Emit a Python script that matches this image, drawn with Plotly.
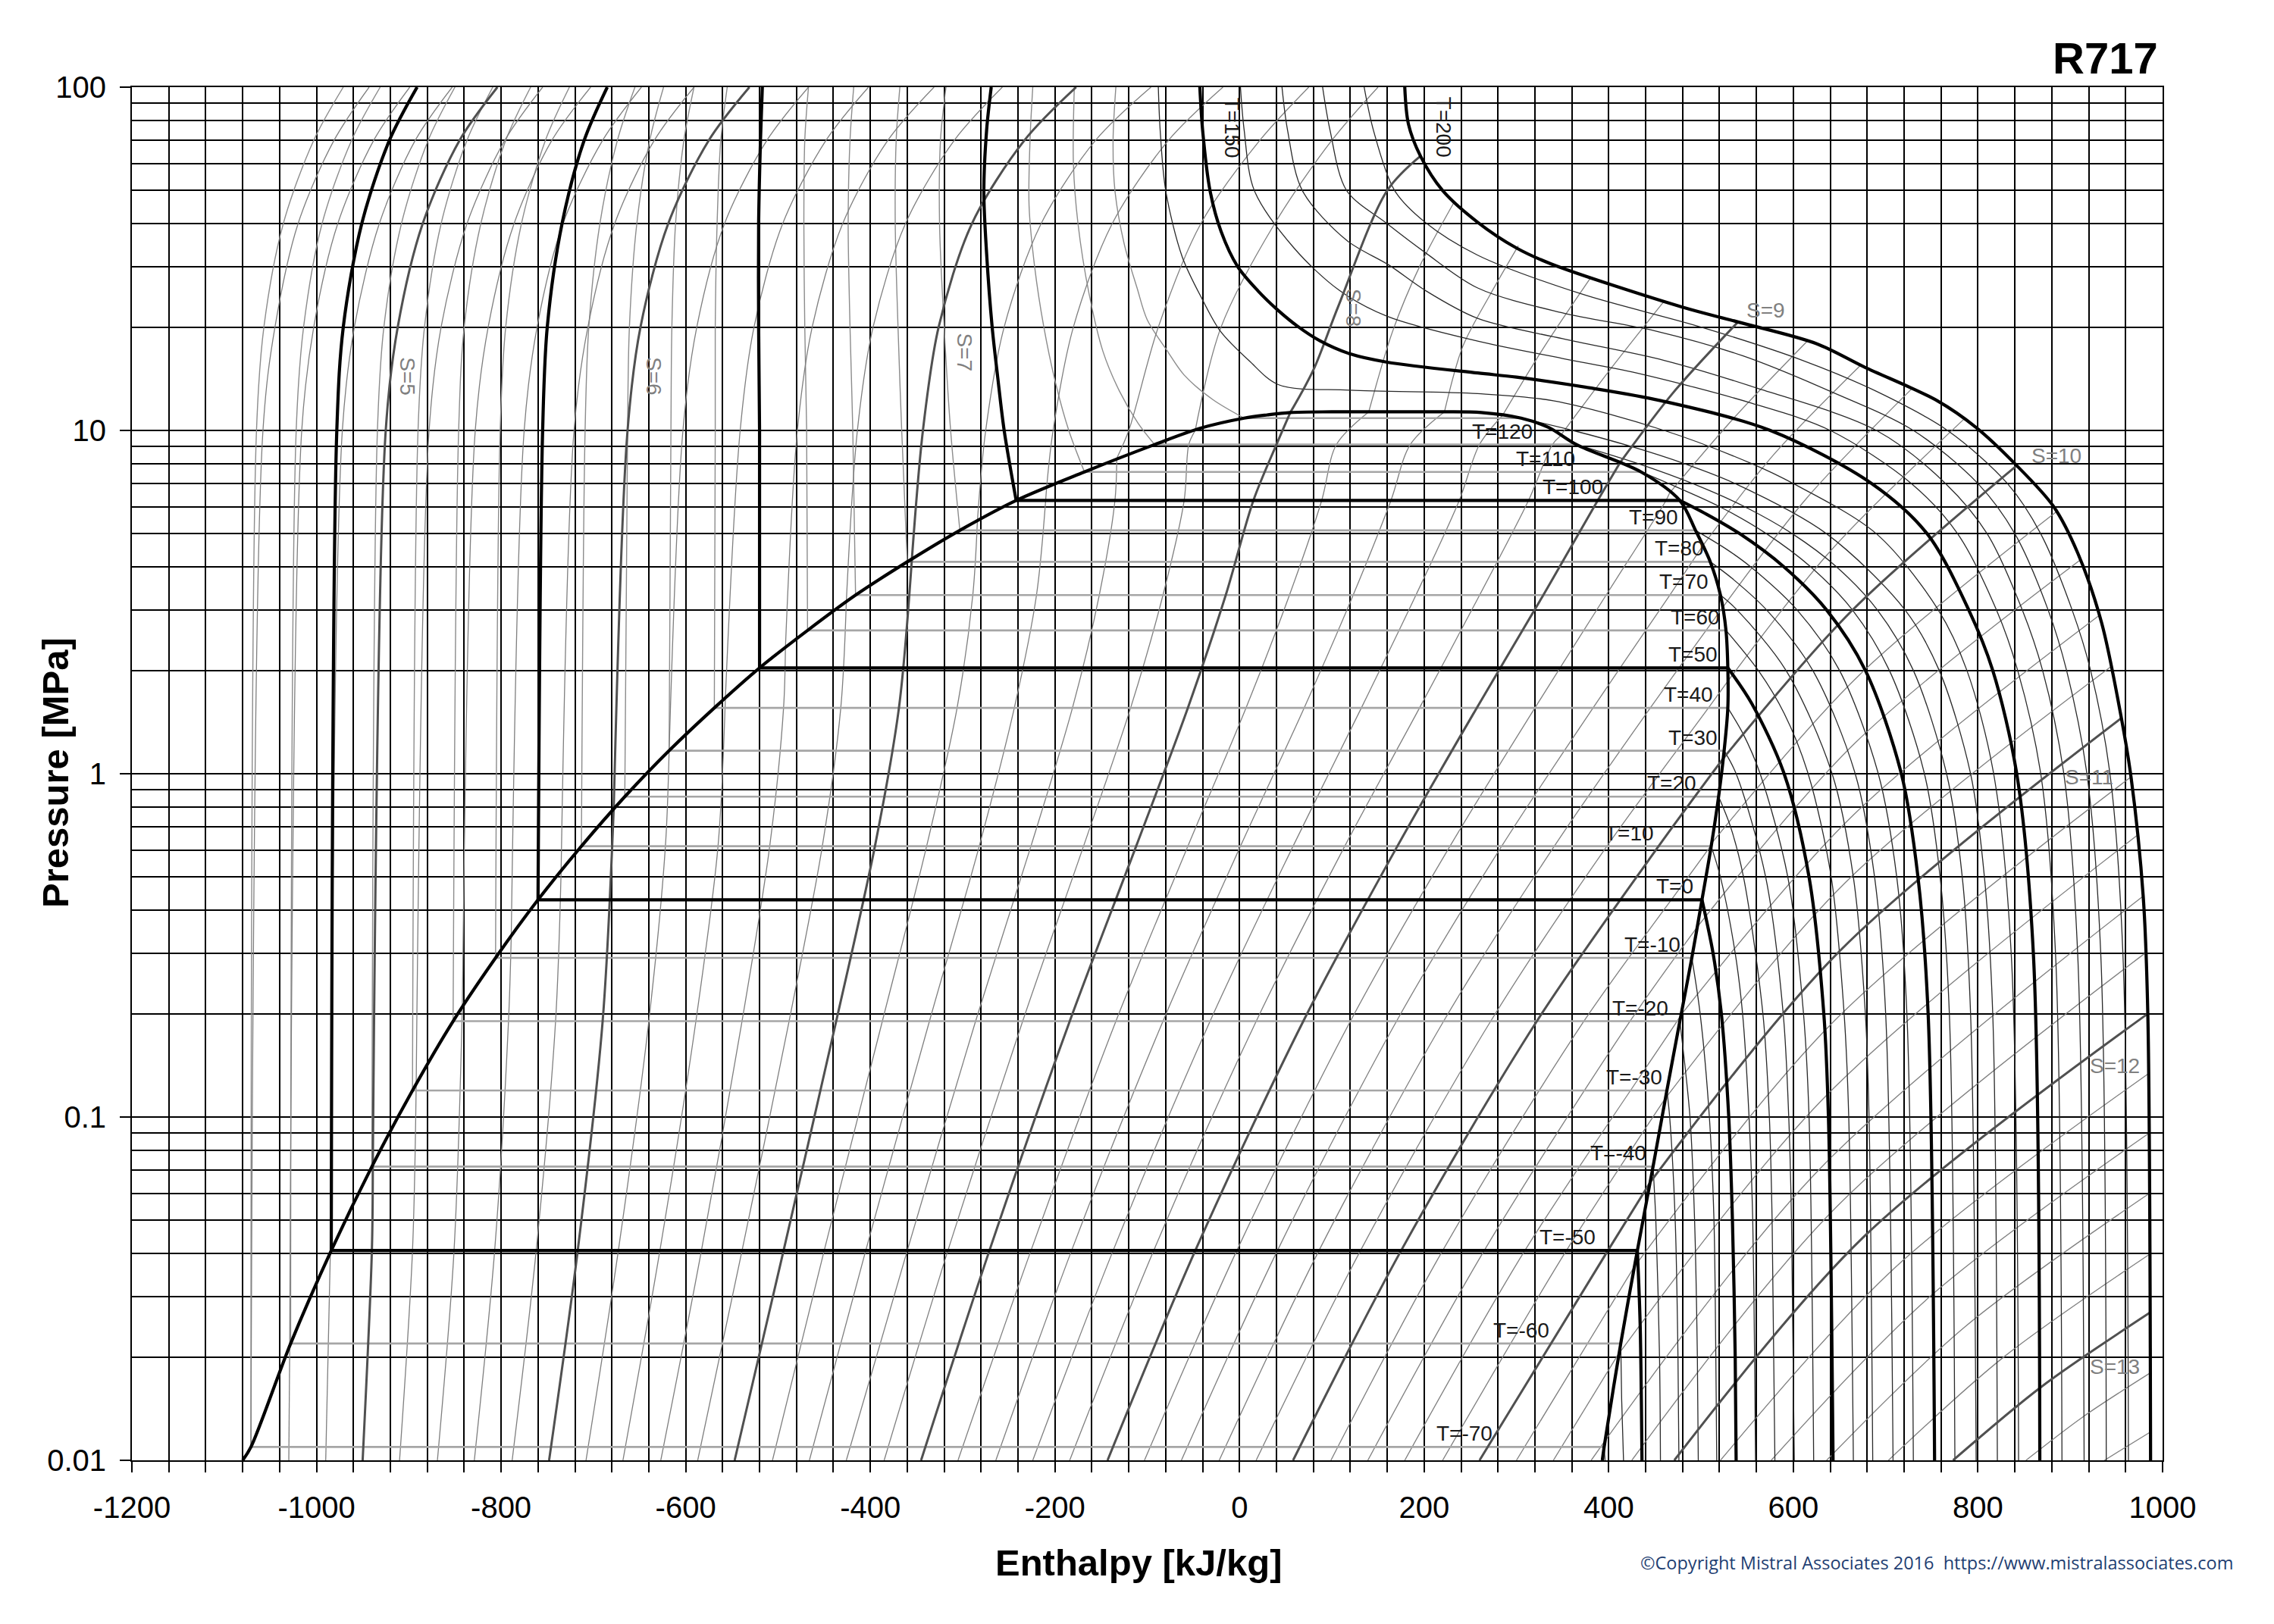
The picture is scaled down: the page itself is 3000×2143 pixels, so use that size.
"""
Diagrama presion-entalpia del R717 (amoniaco), leido del grafico original.
Entalpia en kJ/kg, presion en MPa (escala logaritmica), entropia en kJ/kgK.
"""

import math
import plotly.graph_objects as go

FONT = "Liberation Sans, Arial, sans-serif"

# ---------------------------------------------------------------
# Estados de saturacion
# ---------------------------------------------------------------
SAT_T = [-70, -60, -50, -40, -30, -20, -10, 0, 10, 20,
         30, 40, 50, 60, 70, 80, 90, 100, 110, 120, 130]
SAT_P = [0.01094, 0.02189, 0.04084, 0.07171, 0.1195, 0.1902, 0.2908, 0.4294, 0.6152, 0.8575,
         1.1672, 1.5554, 2.034, 2.6156, 3.3135, 4.142, 5.1164, 6.2533, 7.5721, 9.0963, 10.861]
SAT_HL = [-1071, -1028, -984, -940, -896, -852, -806, -760, -713, -666,
          -618, -569, -520, -468, -416, -360, -303, -242, -168, -92, 5]
SAT_HV = [395, 413, 431, 448, 463, 477, 490, 501, 511, 519,
          525, 529, 529, 527, 521, 510, 494, 477, 435, 365, 305]

# campana: rama liquida -> punto critico -> rama vapor
DOME_H = [-1080, -1071, -1028, -984, -940, -896, -852, -806, -760, -713, -666,
          -618, -569, -520, -468, -416, -360, -303, -242, -168, -92, -43, 5,
          30, 55, 100, 157, 215, 262, 305, 335, 365, 435, 477, 494, 510, 521,
          527, 529, 529, 525, 519, 511, 501, 490, 477, 463, 448, 431, 413, 395, 393]
DOME_P = [0.01, 0.01094, 0.02189, 0.04084, 0.07171, 0.1195, 0.1902, 0.2908, 0.4294, 0.6152, 0.8575,
          1.1672, 1.5554, 2.034, 2.6156, 3.3135, 4.142, 5.1164, 6.2533, 7.5721, 9.0963, 10.14, 10.861,
          11.1, 11.28, 11.33, 11.333, 11.33, 11.28, 10.861, 10.2, 9.0963, 7.5721, 6.2533, 5.1164, 4.142,
          3.3135, 2.6156, 2.034, 1.5554, 1.1672, 0.8575, 0.6152, 0.4294, 0.2908, 0.1902, 0.1195, 0.07171,
          0.04084, 0.02189, 0.01094, 0.01]

# ---------------------------------------------------------------
# Isotermas: (h, P) por encima del liquido saturado
# ---------------------------------------------------------------
ISO_LIQ = {
    -70: [(-1065, 10), (-1057, 20), (-1036, 40), (-1003, 70), (-971, 100)],
    -60: [(-1022, 10), (-1014, 20), (-994, 40), (-962, 70), (-931, 100)],
    -50: [(-978, 10), (-971, 20), (-951, 40), (-921, 70), (-891, 100)],
    -40: [(-934, 10), (-927, 20), (-908, 40), (-879, 70), (-850, 100)],
    -30: [(-890, 10), (-883, 20), (-865, 40), (-837, 70), (-809, 100)],
    -20: [(-846, 10), (-840, 20), (-822, 40), (-795, 70), (-768, 100)],
    -10: [(-801, 10), (-795, 20), (-778, 40), (-752, 70), (-726, 100)],
    0: [(-755, 10), (-750, 20), (-734, 40), (-710, 70), (-685, 100)],
    10: [(-709, 10), (-705, 20), (-693, 40), (-674, 70), (-655, 100)],
    20: [(-663, 10), (-661, 20), (-653, 40), (-639, 70), (-624, 100)],
    30: [(-616, 10), (-615, 20), (-611, 40), (-602, 70), (-591, 100)],
    40: [(-568, 10), (-568, 20), (-566, 40), (-562, 70), (-555, 100)],
    50: [(-520, 10), (-521, 20), (-521, 40), (-519, 70), (-517, 100)],
    60: [(-469, 10), (-471, 20), (-472, 40), (-471, 70), (-467, 100)],
    70: [(-419, 10), (-422, 20), (-424, 40), (-422, 70), (-418, 100)],
    80: [(-366, 10), (-370, 20), (-373, 40), (-372, 70), (-368, 100)],
    90: [(-313, 10), (-320, 20), (-325, 40), (-324, 70), (-318, 100)],
    100: [(-255, 10), (-262, 14.3), (-268, 20), (-274, 32.7), (-277, 49.5), (-274, 75), (-269, 100)],
    110: [(-185, 10), (-200, 14), (-212, 20), (-222, 30), (-228, 45), (-227, 70), (-224, 100)],
    120: [(-110, 10.5), (-130, 13), (-148, 17), (-163, 25), (-175, 40), (-180, 60), (-179, 100)],
    130: [(-29, 12.3), (-60, 14.5), (-78, 17), (-100, 21), (-111, 26), (-125, 35), (-135, 50),
          (-137, 70), (-134, 100)],
}

# isotermas en vapor sobrecalentado: (h, P) por debajo del vapor saturado
ISO_VAP = {
    -70: [(396, 0.01)],
    -60: [(414, 0.015), (416, 0.01)],
    -50: [(434, 0.025), (436, 0.01)],
    -40: [(451, 0.05), (455, 0.02), (456, 0.01)],
    -30: [(466, 0.1), (472, 0.05), (475, 0.02), (476, 0.01)],
    -20: [(488, 0.1), (493, 0.05), (496, 0.02), (497, 0.01)],
    -10: [(499, 0.2), (509, 0.1), (514, 0.05), (516, 0.02), (517, 0.01)],
    0: [(513, 0.3), (522, 0.2), (530, 0.1), (534, 0.05), (537, 0.02), (538, 0.01)],
    10: [(521, 0.5), (537, 0.3), (545, 0.2), (552, 0.1), (556, 0.05), (558, 0.02), (559, 0.01)],
    20: [(532, 0.7), (546, 0.5), (567, 0.2), (574, 0.1), (577, 0.05), (580, 0.01)],
    30: [(538, 1.0), (570, 0.5), (589, 0.2), (595, 0.1), (598, 0.05), (601, 0.01)],
    40: [(546, 1.3), (564, 1.0), (594, 0.5), (611, 0.2), (617, 0.1), (622, 0.01)],
    50: [(555, 1.6), (590, 1.0), (617, 0.5), (633, 0.2), (638, 0.1), (643, 0.01)],
    60: [(562, 2.0), (590, 1.5), (616, 1.0), (641, 0.5), (655, 0.2), (660, 0.1), (665, 0.01)],
    70: [(539, 3.0), (592, 2.0), (642, 1.0), (665, 0.5), (678, 0.2), (682, 0.1), (686, 0.01)],
    80: [(534, 3.7), (571, 3.0), (621, 2.0), (667, 1.0), (688, 0.5), (700, 0.2), (708, 0.01)],
    90: [(528, 4.5), (554, 4.0), (604, 3.0), (650, 2.0), (692, 1.0), (712, 0.5), (723, 0.2), (730, 0.01)],
    100: [(506, 5.7), (542, 5.0), (590, 4.0), (636, 3.0), (678, 2.0), (717, 1.0), (735, 0.5),
          (746, 0.2), (753, 0.01)],
    110: [(465, 7.0), (520, 6.0), (571, 5.0), (619, 4.0), (664, 3.0), (704, 2.0), (742, 1.0),
          (759, 0.5), (769, 0.2), (775, 0.01)],
    120: [(432, 8.0), (491, 7.0), (547, 6.0), (599, 5.0), (647, 4.0), (691, 3.0), (730, 2.0),
          (766, 1.0), (783, 0.5), (792, 0.2), (798, 0.01)],
    130: [(361, 10.0), (423, 9.0), (482, 8.0), (537, 7.0), (636, 5.0), (721, 3.0), (758, 2.0),
          (792, 1.0), (807, 0.5), (816, 0.2), (821, 0.01)],
}

# isotermas supercriticas (de 100 MPa hacia abajo)
ISO_SUP = {
    140: [(-88, 100), (-86, 75), (-80, 50), (-62, 32), (-40, 24), (-21, 19.5), (10, 16), (42, 13.6),
          (120, 13.1), (258, 12.8), (340, 12.2), (460, 10), (555, 8), (600, 7), (690, 5), (757, 3),
          (788, 2), (817, 1), (836, 0.3), (844, 0.01)],
    150: [(-43, 100), (-40, 75), (-32, 50), (-20, 38), (-2, 30), (20, 25.5), (40, 22.6), (63, 20.1),
          (87, 18.25), (120, 16.7), (160, 15.8), (258, 14.7), (300, 14.3), (380, 13.3), (457, 12.2),
          (575, 10), (685, 7), (745, 5), (790, 3), (816, 2), (842, 1), (860, 0.3), (867, 0.01)],
    160: [(1, 100), (5, 75), (16, 50), (59, 34), (108, 25.6), (160, 21.5), (258, 18.2), (350, 16.2),
          (430, 14.7), (555, 12), (640, 10), (728, 7), (778, 5), (820, 3), (843, 2), (868, 1),
          (884, 0.3), (891, 0.01)],
    170: [(46, 100), (52, 75), (68, 50), (116, 35.8), (162, 30.3), (201, 25.6), (258, 21.2),
          (350, 18.5), (460, 16), (560, 13.3), (690, 10), (765, 7), (810, 5), (848, 3), (870, 2),
          (893, 1), (908, 0.3), (915, 0.01)],
    180: [(90, 100), (98, 75), (116, 50), (160, 40), (201, 33), (258, 26), (350, 22), (450, 19.5),
          (545, 16.5), (640, 13), (730, 10), (800, 7), (840, 5), (876, 3), (896, 2), (918, 1),
          (933, 0.3), (939, 0.01)],
    190: [(135, 100), (145, 75), (168, 50), (201, 40.4), (258, 32.4), (370, 25), (500, 20), (610, 16),
          (690, 13), (767, 10), (832, 7), (868, 5), (902, 3), (922, 2), (943, 1), (957, 0.3),
          (963, 0.01)],
    200: [(179, 100), (183, 78), (196, 63), (220, 50), (258, 40.4), (300, 34), (337, 30.6),
          (479, 22.9), (540, 20.7), (625, 17.9), (677, 15.3), (756, 12.2), (798, 10.2), (840, 8),
          (882, 6), (908, 4.4), (934, 2.75), (955, 1.47), (966, 0.97), (979, 0.44), (984, 0.2),
          (987, 0.01)],
}

# ---------------------------------------------------------------
# Isentropicas (S en kJ/kgK, cada 0.2)
# ---------------------------------------------------------------
ISE_S = [4.4, 4.6, 4.8, 5.0, 5.2, 5.4, 5.6, 5.8, 6.0, 6.2, 6.4, 6.6, 6.8, 7.0, 7.2, 7.4, 7.6, 7.8,
         8.0, 8.2, 8.4, 8.6, 8.8, 9.0, 9.2, 9.4, 9.6, 9.8, 10.0, 10.2, 10.4, 10.6, 10.8, 11.0,
         11.2, 11.4, 11.6, 11.8, 12.0, 12.2, 12.4, 12.6, 12.8, 13.0, 13.2, 13.4]

# entalpia dentro de la campana en estos niveles de presion
ISE_DOME_P = [0.01, 0.0408, 0.19, 0.615, 1.555, 3.31, 6.25, 9.10]
ISE_DOME = {
    4.6: [-1030], 4.8: [-990], 5.0: [-950, -940], 5.2: [-910, -896], 5.4: [-869, -851],
    5.6: [-829, -807, -792], 5.8: [-788, -762, -741], 6.0: [-748, -717, -690],
    6.2: [-708, -673, -640, -622], 6.4: [-668, -628, -589, -565],
    6.6: [-627, -583, -539, -509, -494], 6.8: [-587, -539, -488, -452, -432],
    7.0: [-547, -494, -437, -395, -369], 7.2: [-506, -450, -387, -339, -306, -289],
    7.4: [-466, -405, -336, -282, -244, -220], 7.6: [-426, -360, -286, -226, -181, -152, -135],
    7.8: [-385, -316, -235, -169, -118, -83, -60, -55],
    8.0: [-345, -271, -184, -112, -56, -15, 15, 40],
    8.2: [-305, -226, -134, -56, 7, 54, 89, 105],
    8.4: [-264, -182, -83, 1, 70, 123, 164, 185],
    8.6: [-224, -137, -32, 58, 132, 191, 238, 260],
    8.8: [-184, -93, 18, 114, 195, 260, 313, 339],
    9.0: [-143, -48, 69, 171, 257, 329, 388],
    9.2: [-103, -3, 120, 228, 320, 397, 462],
    9.4: [-63, 41, 170, 284, 383, 466],
    9.6: [-22, 86, 221, 341, 445],
    9.8: [18, 131, 272, 398, 508],
    10.0: [58, 175, 322, 454],
    10.2: [99, 220, 373, 510],
    10.4: [139, 265, 423],
    10.6: [179, 309, 474],
    10.8: [220, 354],
    11.0: [260, 399],
    11.2: [300], 11.4: [340], 11.6: [381],
}

# punto donde cada isentropica corta la campana
ISE_CROSS = {
    4.4: (-1071, 0.011), 4.6: (-1029, 0.0216), 4.8: (-985, 0.0404), 5.0: (-939, 0.0724),
    5.2: (-892, 0.1245), 5.4: (-842, 0.2085), 5.6: (-789, 0.338), 5.8: (-735, 0.52),
    6.0: (-678, 0.794), 6.2: (-618, 1.164), 6.4: (-557, 1.67), 6.6: (-492, 2.32),
    6.8: (-426, 3.17), 7.0: (-355, 4.21), 7.2: (-284, 5.45), 7.4: (-209, 6.83),
    7.6: (-133, 8.3), 7.8: (-48, 10.0), 8.0: (55, 11.28), 8.2: (140, 11.33),
    8.4: (222, 11.33), 8.6: (285, 11.07), 8.8: (347, 9.6), 9.0: (412, 8.04),
    9.2: (466, 6.58), 9.4: (502, 4.62), 9.6: (523, 3.04), 9.8: (529, 1.86),
    10.0: (524, 1.108), 10.2: (512, 0.63), 10.4: (496, 0.358), 10.6: (478, 0.198),
    10.8: (461, 0.113), 11.0: (445, 0.0646), 11.2: (427, 0.0364), 11.4: (409, 0.0201),
    11.6: (396, 0.0114),
}

# tramo fuera de la campana (liquido, supercritico o vapor hasta T=200)
ISE_UP = {
    4.4: [(-1058, 10), (-1045, 20), (-1020, 40), (-981, 70), (-943, 100)],
    4.6: [(-1016, 10), (-1003, 20), (-977, 40), (-938, 70), (-899, 100)],
    4.8: [(-972, 10), (-959, 20), (-932, 40), (-893, 70), (-853, 100)],
    5.0: [(-925, 10), (-912, 20), (-885, 40), (-845, 70), (-804, 100)],
    5.2: [(-878, 10), (-865, 20), (-837, 40), (-796, 70), (-755, 100)],
    5.4: [(-828, 10), (-814, 20), (-786, 40), (-745, 70), (-703, 100)],
    5.6: [(-775, 10), (-761, 20), (-733, 40), (-690, 70), (-648, 100)],
    5.8: [(-721, 10), (-706, 20), (-677, 40), (-634, 70), (-591, 100)],
    6.0: [(-663, 10), (-649, 20), (-619, 40), (-575, 70), (-531, 100)],
    6.2: [(-603, 10), (-588, 20), (-558, 40), (-512, 70), (-467, 100)],
    6.4: [(-541, 10), (-526, 20), (-495, 40), (-448, 70), (-402, 100)],
    6.6: [(-479, 10), (-463, 20), (-430, 40), (-381, 70), (-331, 100)],
    6.8: [(-414, 10), (-397, 20), (-362, 40), (-309, 70), (-257, 100)],
    7.0: [(-343, 10), (-326, 20), (-290, 40), (-233, 70), (-177, 100)],
    7.2: [(-275, 10), (-255, 20), (-215, 40), (-156, 70), (-96, 100)],
    7.4: [(-202, 10), (-180, 20), (-138, 40), (-77, 70), (-18, 100)],
    7.6: [(-120, 10), (-88, 20), (-42, 40), (22, 70), (75, 100)],
    7.8: [(-20, 20), (38, 40), (100, 70), (150, 100)],
    8.0: [(80, 15), (107, 23), (160, 50), (196, 63)],
    8.2: [(166, 19.5), (195, 30), (232, 46)],
    8.4: [(242, 17.6), (272, 25), (302, 34.5)],
    8.6: [(330, 17.5), (381, 28)],
    8.8: [(402, 15.1), (460, 23.8)],
    9.0: [(470, 12.9), (540, 20.7)],
    9.2: [(536, 10.9), (615, 18.2)],
    9.4: [(578, 8.46), (673, 15.5)],
    9.6: [(614, 6.33), (728, 13.2)],
    9.8: [(641, 4.48), (785, 10.8)],
    10.0: [(662, 2.96), (842, 7.9)],
    10.2: [(669, 1.91), (885, 5.8)],
    10.4: [(667, 1.23), (911, 4.2)],
    10.6: [(665, 0.758), (932, 2.9)],
    10.8: [(656, 0.481), (944, 2.05)],
    11.0: [(651, 0.306), (955, 1.45)],
    11.2: [(643, 0.189), (966, 0.98)],
    11.4: [(635, 0.115), (972, 0.66)],
    11.6: [(629, 0.0708), (979, 0.44)],
    11.8: [(425, 0.01), (647, 0.0548), (981, 0.30)],
    12.0: [(471, 0.01), (676, 0.0447), (984, 0.20)],
    12.2: [(521, 0.01), (711, 0.0366), (985, 0.134)],
    12.4: [(576, 0.01), (748, 0.030), (986, 0.09)],
    12.6: [(636, 0.01), (786, 0.0245), (986, 0.06)],
    12.8: [(703, 0.01), (828, 0.020), (987, 0.04)],
    13.0: [(773, 0.01), (869, 0.0164), (987, 0.027)],
    13.2: [(852, 0.01), (914, 0.0134), (987, 0.018)],
    13.4: [(937, 0.01), (987, 0.0121)],
}

# ---------------------------------------------------------------
# Rotulos
# ---------------------------------------------------------------
T_LABEL_RIGHT = {-70: 276, -60: 337, -50: 387, -40: 442, -30: 460, -20: 466, -10: 479,
                 0: 493, 10: 451, 20: 497, 30: 520, 40: 515, 50: 520, 60: 522, 70: 510,
                 80: 505, 90: 477, 100: 396, 110: 365, 120: 319}
# (texto, h, P, angulo)
LINE_LABELS = [("S=5", -901, 14.4, 90), ("S=6", -634, 14.4, 90), ("S=7", -298, 16.9, 90),
               ("S=8", 123, 22.8, 90), ("S=9", 570, 22.4, 0), ("S=10", 885, 8.45, 0),
               ("S=11", 920, 0.975, 0), ("S=12", 948, 0.141, 0), ("S=13", 948, 0.0187, 0),
               ("T=150", -8, 76.4, 90), ("T=200", 221, 76.4, 90)]

X_MAJOR = list(range(-1200, 1001, 200))
X_MINOR = [v for v in range(-1200, 1001, 40) if v % 200]
Y_MAJOR = [0.01, 0.1, 1, 10, 100]
Y_TEXT = ["0.01", "0.1", "1", "10", "100"]
Y_MINOR = [k * 10.0 ** e for e in range(-2, 2) for k in range(2, 10)]

STYLE = {
    "iso_liq": dict(color="#8c8c8c", width=1.4),
    "ise_thin": dict(color="#7f7f7f", width=1.3),
    "iso_vap": dict(color="#2a2a2a", width=1.3),
    "iso_2ph": dict(color="#a6a6a6", width=2.6),
    "ise_int": dict(color="#505050", width=3.0),
    "thick": dict(color="#000000", width=4.2),
}
ORDER = ["iso_liq", "ise_thin", "iso_vap", "iso_2ph", "ise_int", "thick"]

segs = {k: ([], []) for k in ORDER}


def put(kind, pts):
    if len(pts) < 2:
        return
    xs, ys = segs[kind]
    xs.extend([p[0] for p in pts] + [None])
    ys.extend([p[1] for p in pts] + [None])


# isotermas
for i, t in enumerate(SAT_T):
    p, hl, hv = SAT_P[i], SAT_HL[i], SAT_HV[i]
    bold = t % 50 == 0
    put("thick" if bold else "iso_liq", [(hl, p)] + ISO_LIQ[t])
    put("thick" if bold else "iso_2ph", [(hl, p), (hv, p)])
    put("thick" if bold else "iso_vap", [(hv, p)] + ISO_VAP[t])
for t, pts in ISO_SUP.items():
    put("thick" if t % 50 == 0 else "iso_vap", pts)

# isentropicas
for s in ISE_S:
    kind = "ise_int" if abs(s - round(s)) < 1e-9 else "ise_thin"
    cross = ISE_CROSS.get(s)
    if cross:
        dome = list(zip(ISE_DOME.get(s, []), ISE_DOME_P))
        put(kind, dome + [cross])
        put(kind, [cross] + ISE_UP[s])
    else:
        put(kind, ISE_UP[s])

# campana
put("thick", list(zip(DOME_H, DOME_P)))

fig = go.Figure()
for k in ORDER:
    xs, ys = segs[k]
    fig.add_trace(go.Scatter(
        x=xs, y=ys, mode="lines",
        line=dict(shape="spline", smoothing=0.9, **STYLE[k]),
        hoverinfo="skip", showlegend=False
    ))

ann = []
for t, hr in T_LABEL_RIGHT.items():
    p = SAT_P[SAT_T.index(t)]
    ann.append(dict(x=hr, y=math.log10(p), xref="x", yref="y", text=f"T={t}",
                    xanchor="right", yanchor="bottom", showarrow=False,
                    font=dict(family=FONT, size=28, color="#1a1a1a")))
for txt, h, p, ang in LINE_LABELS:
    color = "#1a1a1a" if txt.startswith("T") else "#808080"
    ann.append(dict(x=h, y=math.log10(p), xref="x", yref="y", text=txt, textangle=ang,
                    xanchor="center", yanchor="middle", showarrow=False,
                    font=dict(family=FONT, size=28, color=color)))

ann.append(dict(x=0.9985, y=1.0215, xref="paper", yref="paper", text="<b>R717</b>",
                xanchor="right", yanchor="middle", showarrow=False,
                font=dict(family=FONT, size=58, color="#000000")))
ann.append(dict(x=-0.0377, y=0.5006, xref="paper", yref="paper", text="<b>Pressure [MPa]</b>",
                textangle=-90, xanchor="center", yanchor="middle", showarrow=False,
                font=dict(family=FONT, size=49, color="#000000")))
ann.append(dict(x=0.4957, y=-0.0745, xref="paper", yref="paper", text="<b>Enthalpy [kJ/kg]</b>",
                xanchor="center", yanchor="middle", showarrow=False,
                font=dict(family=FONT, size=49, color="#000000")))
ann.append(dict(x=0.742, y=-0.0745, xref="paper", yref="paper",
                text="\u00a9Copyright Mistral Associates 2016  https://www.mistralassociates.com",
                xanchor="left", yanchor="middle", showarrow=False,
                font=dict(family="Open Sans, sans-serif", size=23.5, color="#1f3f73")))

axis_common = dict(
    showgrid=True, gridcolor="#000000", gridwidth=1.8, zeroline=False,
    showline=True, linecolor="#000000", linewidth=1.8, mirror=True,
    ticks="outside", ticklen=14, tickwidth=1.8, tickcolor="#000000",
    tickfont=dict(family=FONT, size=40, color="#000000"),
)
fig.update_xaxes(
    range=[-1200, 1000], tickmode="array", tickvals=X_MAJOR,
    ticktext=[str(v) for v in X_MAJOR], ticklabelstandoff=12,
    minor=dict(tickmode="array", tickvals=X_MINOR, ticks="outside", ticklen=14,
               tickwidth=1.8, tickcolor="#000000", showgrid=True,
               gridcolor="#000000", gridwidth=1.8),
    **axis_common
)
fig.update_yaxes(
    type="log", range=[-2, 2], tickmode="array", tickvals=Y_MAJOR, ticktext=Y_TEXT,
    ticklabelstandoff=10,
    minor=dict(tickmode="array", tickvals=Y_MINOR, ticks="", showgrid=True,
               gridcolor="#000000", gridwidth=1.8),
    **axis_common
)
# la pagina deja 8 px de margen en el body: el lienzo se recorta en proporcion
fig.update_layout(
    width=2992, height=2135,
    margin=dict(l=166, r=147, t=107, b=216),
    paper_bgcolor="white", plot_bgcolor="white",
    showlegend=False, annotations=ann,
)
fig.write_html("out.html")
